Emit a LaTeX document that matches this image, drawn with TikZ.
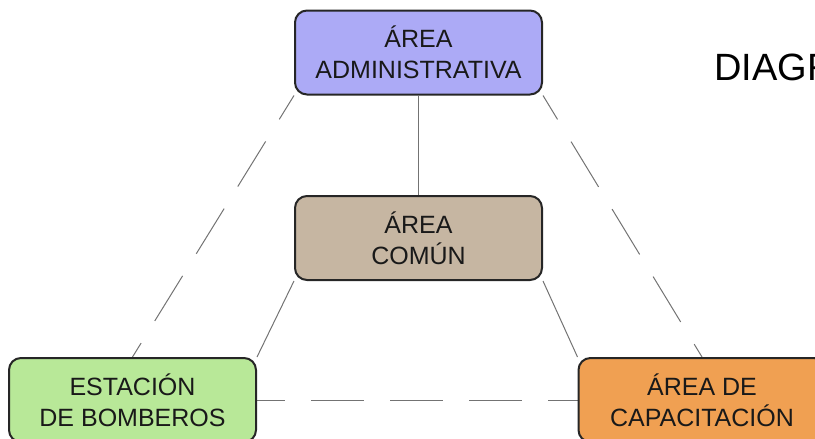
\documentclass[tikz,border=0pt]{standalone}
\usepackage{fontspec}
\setmainfont{Liberation Sans}
\usetikzlibrary{positioning,backgrounds}

\definecolor{admfill}{RGB}{172,170,246}
\definecolor{comfill}{RGB}{198,182,162}
\definecolor{bomfill}{RGB}{184,232,152}
\definecolor{capfill}{RGB}{240,160,82}

\begin{document}
\begin{tikzpicture}[
  x=1pt, y=-1pt,
  font=\fontsize{25}{31}\selectfont,
  areanode/.style={draw=black!85, line width=2pt, rounded corners=12pt, minimum width=247pt, minimum height=84pt, align=center, text=black!90},
  solidlink/.style={draw=black!55, line width=1pt},
  dashlink/.style={draw=black!55, line width=1pt, dash pattern=on 53pt off 26pt, dash phase=25pt}
]
  \useasboundingbox (0,0) rectangle (815,439);
  \clip (0,0) rectangle (815,439);
  \node[areanode, fill=admfill] (adm) at (418.5,52.5) {ÁREA\\ADMINISTRATIVA};
  \node[areanode, fill=comfill] (com) at (418.5,238) {ÁREA\\COMÚN};
  \node[areanode, fill=bomfill] (bom) at (132.5,400) {ESTACIÓN\\DE BOMBEROS};
  \node[areanode, fill=capfill] (cap) at (702,400) {ÁREA DE\\CAPACITACIÓN};
  \node[anchor=base west, inner sep=0pt, font=\fontsize{38}{46}\selectfont] (title) at (714,80) {DIAGRAMA};
  \begin{scope}[on background layer]
    \draw[solidlink] (adm.south) -- (com.north);
    \draw[solidlink] (com.south west) -- (bom.north east);
    \draw[solidlink] (com.south east) -- (cap.north west);
    \draw[dashlink] (adm.south west) -- (bom.north);
    \draw[dashlink] (adm.south east) -- (cap.north);
    \draw[dashlink] (bom.east) -- (cap.west);
  \end{scope}
\end{tikzpicture}
\end{document}
